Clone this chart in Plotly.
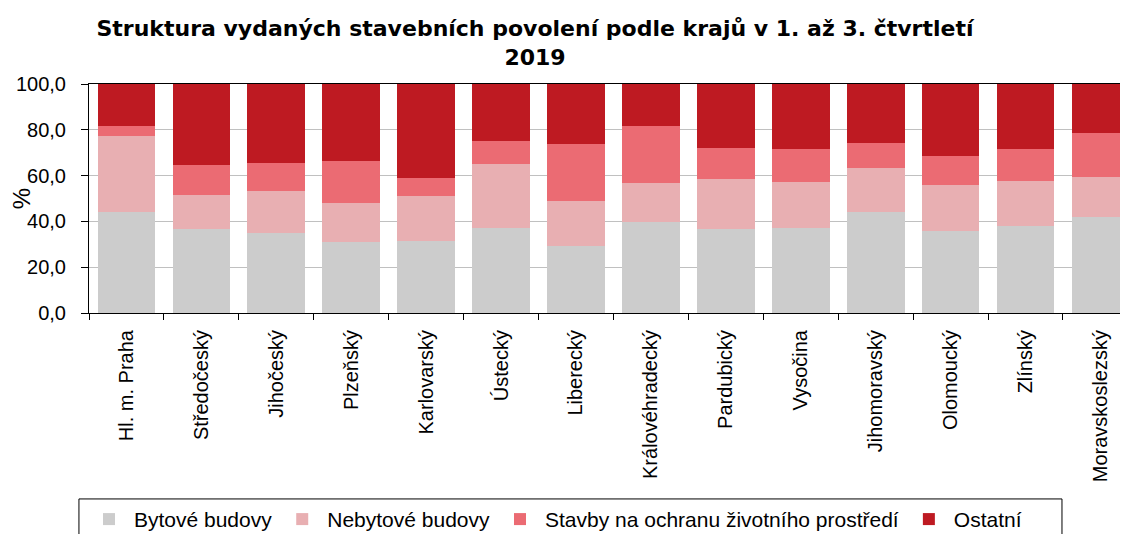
import pandas as pd
import plotly.graph_objects as go

kraje_df = pd.DataFrame({
    "Kraj": ["Hl. m. Praha", "Středočeský", "Jihočeský", "Plzeňský", "Karlovarský", "Ústecký", "Liberecký",
             "Královéhradecký", "Pardubický", "Vysočina", "Jihomoravský", "Olomoucký", "Zlínský", "Moravskoslezský"],
    "Bytové budovy": [44.0, 36.7, 35.1, 31.2, 31.3, 37.0, 29.3, 39.8, 36.6, 37.0, 44.3, 35.6, 38.0, 41.8],
    "Nebytové budovy": [33.3, 14.8, 18.3, 16.8, 19.9, 28.2, 19.5, 16.9, 21.9, 20.1, 19.0, 20.2, 19.6, 17.8],
    "Stavby na ochranu životního prostředí": [4.3, 13.2, 12.1, 18.3, 7.7, 9.9, 25.0, 24.9, 13.5, 14.6, 10.9, 12.7, 14.0, 18.8],
    "Ostatní": [18.4, 35.3, 34.5, 33.7, 41.1, 24.9, 26.2, 18.4, 28.0, 28.3, 25.8, 31.5, 28.4, 21.6],
})

COLORS = {
    "Bytové budovy": "#cccccc",
    "Nebytové budovy": "#e8afb2",
    "Stavby na ochranu životního prostředí": "#eb6b73",
    "Ostatní": "#be1a22",
}


def render_structure():
    df = kraje_df.copy()

    fig = go.Figure()
    for col, color in COLORS.items():
        fig.add_trace(go.Bar(x=df["Kraj"], y=df[col], name=col, marker=dict(color=color, line=dict(width=0))))

    # box round the legend, cut off at the bottom edge like the original
    fig.add_shape(type="rect", xref="paper", yref="paper", x0=-0.0096, x1=0.9293, y0=-0.812, y1=-1.2,
                  line=dict(color="#000000", width=1), fillcolor="rgba(0,0,0,0)")

    fig.update_layout(
        template="plotly_white",
        width=1128,
        height=534,
        barmode="stack",
        bargap=0.23,
        separators=", ",
        font=dict(family="Liberation Sans, Arial", size=20, color="#000000"),
        title=dict(
            text="Struktura vydaných stavebních povolení podle krajů v 1. až 3. čtvrtletí<br>2019",
            font=dict(family="DejaVu Sans", size=22, color="#000000", weight="bold"),
            x=0.4672, xref="container", xanchor="center",
            y=0.9475, yref="container", yanchor="top",
        ),
        xaxis=dict(
            range=[-0.5, 13.475],  # last region runs past the right edge
            tickangle=-90,
            tickson="boundaries",
            ticks="outside", ticklen=6, tickcolor="#000000",
            ticklabelstandoff=8,
            showline=True, linecolor="#000000", linewidth=1, mirror=True,
            showgrid=False,
            automargin=False,
        ),
        yaxis=dict(
            title=dict(text="%"),
            range=[0, 100],
            dtick=20,
            tickformat=".1f",
            ticks="outside", ticklen=7, tickcolor="#000000",
            ticklabelstandoff=11,
            showline=True, linecolor="#000000", linewidth=1,
            gridcolor="#c0c0c0", gridwidth=1,
            zeroline=False,
            automargin=False,
        ),
        legend=dict(
            orientation="h",
            traceorder="normal",
            itemwidth=40,
            x=-0.0048, xanchor="left",
            y=-0.991, yanchor="bottom",
            font=dict(size=21),
            bgcolor="rgba(0,0,0,0)",
        ),
        plot_bgcolor="#ffffff",
        margin=dict(l=81, r=0, t=76, b=229),
    )
    return fig


fig = render_structure()
fig.write_html("out.html")
